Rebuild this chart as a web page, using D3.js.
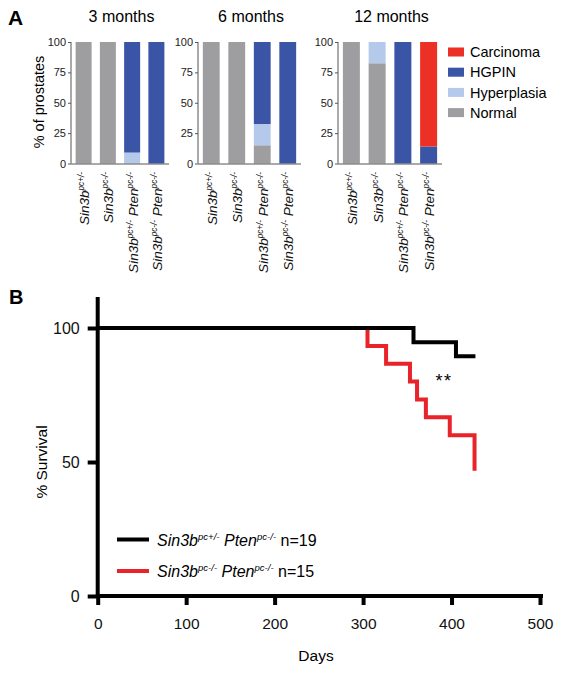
<!DOCTYPE html>
<html><head><meta charset="utf-8">
<script src="https://cdn.jsdelivr.net/npm/d3@7"></script>
<style>body{margin:0;background:#fff}svg{display:block;font-family:"Liberation Sans",Arial,sans-serif}</style>
</head><body><svg id="c" width="562" height="675"></svg>
<script>
// ---------- DATA ----------
const months = ["3 months", "6 months", "12 months"];
// genotype labels: [italic base, superscript] pairs
const genotypes = [
  [["Sin3b", "pc+/-"]],
  [["Sin3b", "pc-/-"]],
  [["Sin3b", "pc+/-"], ["Pten", "pc-/-"]],
  [["Sin3b", "pc-/-"], ["Pten", "pc-/-"]]
];
const lesions = ["Normal", "Hyperplasia", "HGPIN", "Carcinoma"];
const legendOrder = ["Carcinoma", "HGPIN", "Hyperplasia", "Normal"];
const lesionColors = ["#9e9ea0", "#b5c9ea", "#3b55a6", "#ec3025"];
// % of prostates per timepoint (rows) and genotype (columns)
const normal      = [[100, 100, 0, 0], [100, 100, 15, 0], [100, 82.5, 0, 0]];
const hyperplasia = [[0, 0, 9, 0],     [0, 0, 17.5, 0],   [0, 17.5, 0, 0]];
const hgpin       = [[0, 0, 91, 100],  [0, 0, 67.5, 100], [0, 0, 100, 14]];
const carcinoma   = [[0, 0, 0, 0],     [0, 0, 0, 0],      [0, 0, 0, 86]];
const pctTicks = [0, 25, 50, 75, 100];

// Survival (Kaplan-Meier)
const survNames = [["Sin3b", "pc+/-"], ["Pten", "pc-/-"]];
const survNames2 = [["Sin3b", "pc-/-"], ["Pten", "pc-/-"]];
const survN = ["n=19", "n=15"];
const blackDays = [0, 357, 405, 427];
const blackSurv = [100, 94.7, 89.5, 89.5];
const redDays = [0, 305, 326, 353, 361, 371, 398, 426];
const redSurv = [100, 93.3, 86.7, 80, 73.3, 66.7, 60, 46.7];
const dayTicks = [0, 100, 200, 300, 400, 500];
const survTicks = [0, 50, 100];

// ---------- DRAW ----------
const svg = d3.select("#c");
const FONT = '"Liberation Sans",Arial,sans-serif';

// Panel label A
svg.append("text").attr("x", 8).attr("y", 25).attr("font-size", 21).attr("font-weight", "bold").text("A");

const panels = [[71, 169], [198, 301], [338, 442]];
const yA = d3.scaleLinear().domain([0, 100]).range([163.5, 42]);
const series = [normal, hyperplasia, hgpin, carcinoma];

// returns true if text ends raised (superscript)
function addLabel(sel, parts, size, supSize, supShift) {
  parts.forEach((p, i) => {
    const b = sel.append("tspan").attr("font-style", "italic").attr("font-size", size)
      .text((i > 0 ? " " : "") + p[0]);
    if (i > 0) b.attr("dy", supShift);
    sel.append("tspan").attr("font-style", "italic").attr("font-size", supSize)
      .attr("dy", -supShift).text(p[1]);
  });
}

months.forEach((m, mi) => {
  const [x0, x1] = panels[mi];
  const g = svg.append("g");
  const x = d3.scaleBand().domain(d3.range(4)).range([x0, x1]).paddingInner(0.34).paddingOuter(0.19);
  const rows = d3.range(4).map(j => {
    const o = {};
    lesions.forEach((l, li) => o[l] = series[li][mi][j]);
    o.idx = j; return o;
  });
  const stack = d3.stack().keys(lesions)(rows);
  stack.forEach((s, si) => {
    g.selectAll(null).data(s).join("rect")
      .attr("x", d => x(d.data.idx)).attr("width", x.bandwidth())
      .attr("y", d => yA(d[1])).attr("height", d => yA(d[0]) - yA(d[1]))
      .attr("fill", lesionColors[si]);
  });
  const ya = g.append("g").attr("transform", `translate(${x0},0)`)
    .call(d3.axisLeft(yA).tickValues(pctTicks).tickSize(3).tickPadding(2));
  ya.select(".domain").attr("stroke", "#555").attr("d", `M-0,${yA(100)}V${yA(0)}`);
  ya.selectAll(".tick line").attr("stroke", "#555");
  ya.selectAll("text").attr("font-size", 11).attr("font-family", FONT).attr("fill", "#222");
  g.append("line").attr("x1", x0).attr("x2", x1).attr("y1", yA(0) + 0.5).attr("y2", yA(0) + 0.5).attr("stroke", "#555");
  g.append("text").attr("x", (x0 + x1) / 2 + 1.5).attr("y", 22).attr("text-anchor", "middle")
    .attr("font-size", 16).text(m);
  genotypes.forEach((gt, j) => {
    const cx = x(j) + x.bandwidth() / 2 + 5.5;
    const t = g.append("text").attr("text-anchor", "end")
      .attr("transform", `translate(${cx},${172}) rotate(-90)`).attr("fill", "#111");
    addLabel(t, gt, 13.5, 8.2, 5);
  });
});

svg.append("text").attr("transform", "translate(44,102) rotate(-90)").attr("text-anchor", "middle")
  .attr("font-size", 14.5).text("% of prostates");

legendOrder.forEach((l, i) => {
  const cy = 52 + i * 20.2;
  svg.append("rect").attr("x", 448).attr("y", cy - 4.5).attr("width", 16).attr("height", 9)
    .attr("fill", lesionColors[lesions.indexOf(l)]);
  svg.append("text").attr("x", 470).attr("y", cy + 5.2).attr("font-size", 14.5).text(l);
});

// ---------- Panel B ----------
svg.append("text").attr("x", 9).attr("y", 304).attr("font-size", 20).attr("font-weight", "bold").text("B");
const xB = d3.scaleLinear().domain([0, 500]).range([97.7, 540]);
const yB = d3.scaleLinear().domain([0, 100]).range([596, 328]);

const line = d3.line().x(d => xB(d[0])).y(d => yB(d[1])).curve(d3.curveStepAfter);
svg.append("path").attr("d", line(redDays.map((d, i) => [d, redSurv[i]])))
  .attr("fill", "none").attr("stroke", "#e8232a").attr("stroke-width", 4);
svg.append("path").attr("d", line(blackDays.map((d, i) => [d, blackSurv[i]])))
  .attr("fill", "none").attr("stroke", "#000").attr("stroke-width", 4);

const axL = svg.append("g").attr("transform", `translate(${xB(0)},0)`)
  .call(d3.axisLeft(yB).tickValues(survTicks).tickSize(10).tickPadding(8));
axL.select(".domain").attr("d", `M0,297V598`).attr("stroke", "#000").attr("stroke-width", 4);
axL.selectAll(".tick line").attr("stroke-width", 4);
axL.selectAll("text").attr("font-size", 16).attr("font-family", FONT).attr("fill", "#111");

const axB = svg.append("g").attr("transform", `translate(0,${yB(0)})`)
  .call(d3.axisBottom(xB).tickValues(dayTicks).tickSize(9).tickPadding(13));
axB.select(".domain").attr("d", `M${xB(0) - 2},0H543`).attr("stroke", "#000").attr("stroke-width", 4);
axB.selectAll(".tick line").attr("stroke-width", 4);
axB.selectAll("text").attr("font-size", 15.5).attr("font-family", FONT).attr("fill", "#111");

svg.append("text").attr("x", 316).attr("y", 661).attr("text-anchor", "middle").attr("font-size", 15.5).text("Days");
svg.append("text").attr("transform", "translate(47,462) rotate(-90)").attr("text-anchor", "middle")
  .attr("font-size", 15.5).text("% Survival");

svg.append("text").attr("x", 444).attr("y", 387).attr("text-anchor", "middle").attr("font-size", 18)
  .attr("letter-spacing", 1.5).text("**");

[[survNames, "#000", 539.5, survN[0]], [survNames2, "#e8232a", 571, survN[1]]].forEach(([nm, col, y, n]) => {
  svg.append("line").attr("x1", 117).attr("x2", 149).attr("y1", y).attr("y2", y)
    .attr("stroke", col).attr("stroke-width", 4);
  const t = svg.append("text").attr("x", 157).attr("y", y + 6);
  addLabel(t, nm, 16, 9.6, 6);
  t.append("tspan").attr("font-size", 16).attr("dy", 6).text(" " + n);
});
</script></body></html>
